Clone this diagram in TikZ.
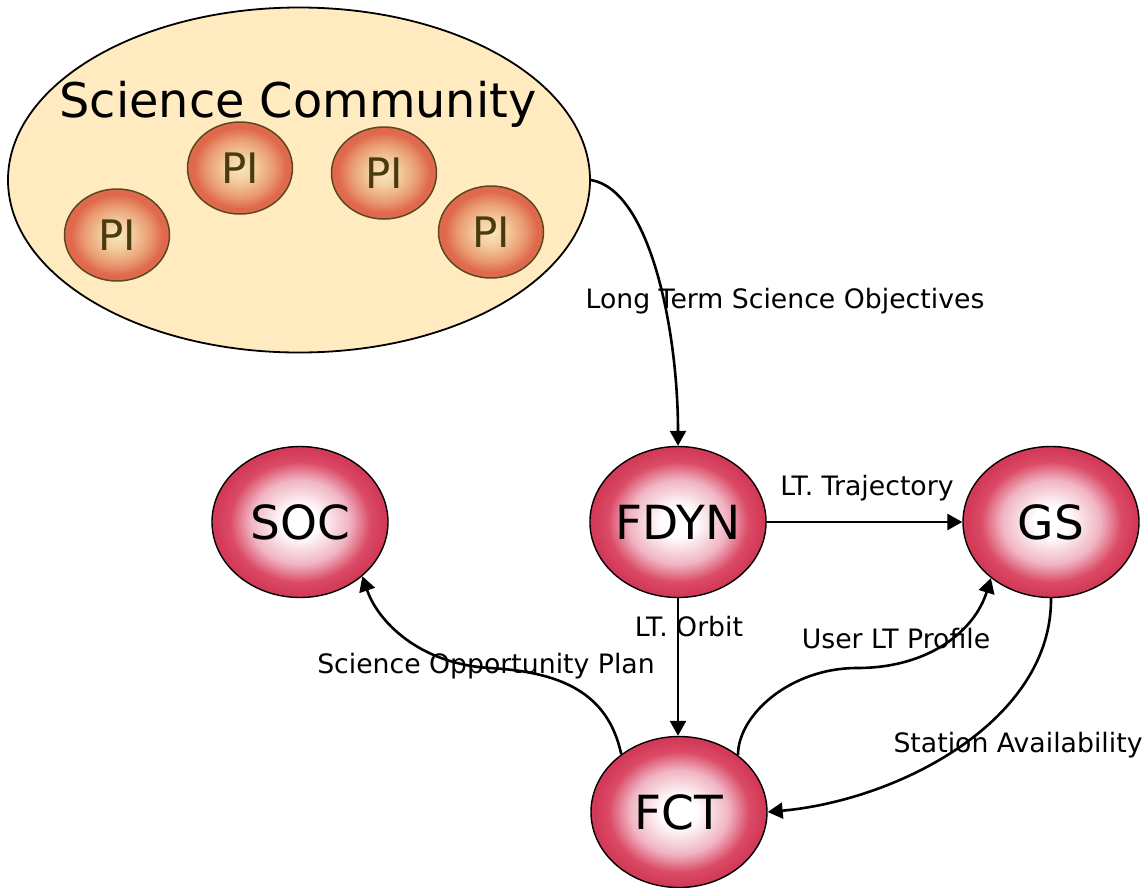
\documentclass[tikz,border=0pt]{standalone}
\usepackage{fontspec}
\setmainfont{DejaVu Sans}
\usetikzlibrary{shapes.geometric,arrows.meta}

% palette
\definecolor{commfill}{HTML}{FFEBBF}
\definecolor{orbmid}{HTML}{F0B4C2}
\definecolor{orbedge}{HTML}{DB4A66}
\definecolor{orbrim}{HTML}{D23A58}
\definecolor{picore}{HTML}{F9E6BE}
\definecolor{pisoft}{HTML}{F3CFA0}
\definecolor{pimid}{HTML}{E99A72}
\definecolor{piedge}{HTML}{E0684C}
\definecolor{piline}{HTML}{5A4A20}
\definecolor{pitext}{HTML}{4A3A10}

% glossy fills for the team bubbles (the shape's border sits at 25bp)
\pgfdeclareradialshading{orbshade}{\pgfpoint{0bp}{0bp}}{%
  color(0bp)=(white); color(5bp)=(white); color(14bp)=(orbmid);
  color(20bp)=(orbedge); color(24bp)=(orbrim); color(25bp)=(orbrim);
  color(50bp)=(orbrim)}
\pgfdeclareradialshading{pishade}{\pgfpoint{0bp}{0bp}}{%
  color(0bp)=(picore); color(7bp)=(pisoft); color(16bp)=(pimid);
  color(22bp)=(piedge); color(25bp)=(piedge); color(50bp)=(piedge)}

\tikzset{
  orb/.style={ellipse, draw=black, line width=1.4pt, shade, shading=orbshade,
    minimum width=176pt, minimum height=151pt, inner sep=0pt,
    text height=34pt, text depth=0pt, font=\fontsize{47}{56}\selectfont},
  pinode/.style={ellipse, draw=piline, line width=1.5pt, shade, shading=pishade,
    minimum width=105pt, minimum height=92pt, inner sep=0pt, text=pitext,
    text height=30pt, text depth=0pt, font=\fontsize{42}{50}\selectfont},
  flow/.style={-{Triangle[length=15pt,width=16pt]}, line width=2.6pt},
  lbl/.style={anchor=base, inner sep=0pt, font=\fontsize{26.7}{32}\selectfont}
}

\begin{document}
\begin{tikzpicture}[x=1pt,y=-1pt]
\useasboundingbox (0,0) rectangle (1145,887);

% science community with its principal investigators
\node[ellipse, draw=black, line width=1.8pt, fill=commfill,
      minimum width=582pt, minimum height=345pt, inner sep=0pt] (sci) at (299,180) {};
\node[anchor=base, inner sep=0pt, font=\fontsize{47.8}{56}\selectfont] (scititle) at (298,117) {Science Community};
\node[pinode] (pia) at (117,235) {PI};
\node[pinode] (pib) at (240,168) {PI};
\node[pinode] (pic) at (384,173) {PI};
\node[pinode] (pid) at (491,232) {PI};

% operations teams
\node[orb] (soc)  at (300,522)  {SOC};
\node[orb] (fdyn) at (678,522)  {FDYN};
\node[orb] (gs)   at (1051,522) {GS};
\node[orb] (fct)  at (679,812)  {FCT};

% information flows
\draw[flow] (sci.east) .. controls (650,190) and (678,330) .. (fdyn.north);
\draw[flow] (fdyn) -- (gs);
\draw[flow] (fdyn.south) -- (fdyn.south |- fct.north);
\draw[flow] (fct.135) .. controls (608,692) and (560,672) .. (490,668)
                      .. controls (420,664) and (378,622) .. (soc.-41);
\draw[flow] (fct.44) .. controls (738,715) and (790,668) .. (857,668)
                     .. controls (930,668) and (975,630) .. (gs.-137);
\draw[flow] (gs.south) .. controls (1052,720) and (900,800) .. (fct.east);

% flow labels
\node[lbl] (lobj)  at (785,308)  {Long Term Science Objectives};
\node[lbl] (ltraj) at (867,495)  {LT. Trajectory};
\node[lbl] (lorb)  at (689,636)  {LT. Orbit};
\node[lbl] (lsop)  at (486,673)  {Science Opportunity Plan};
\node[lbl] (lulp)  at (896,648)  {User LT Profile};
\node[lbl] (lsta)  at (1018,752) {Station Availability};
\end{tikzpicture}
\end{document}
